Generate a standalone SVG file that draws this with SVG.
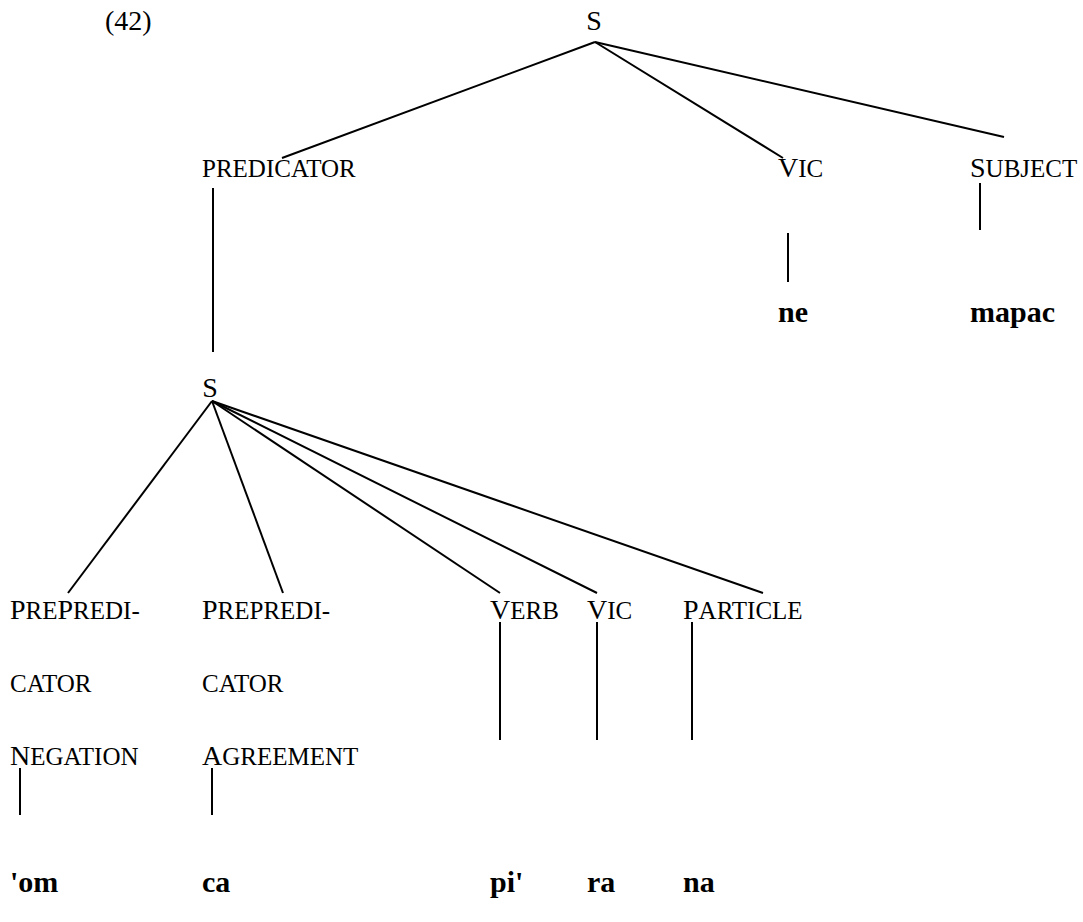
<svg xmlns="http://www.w3.org/2000/svg" width="1083" height="922" viewBox="0 0 1083 922">
<style>
.m{font-size:28px}
.sc{font-size:25px}
.b{font-size:30px;font-weight:bold}
.e line{stroke:#000;stroke-width:2;fill:none}
</style>
<rect width="1083" height="922" fill="#fff"/>
<g font-family="'Liberation Serif', 'Times New Roman', 'DejaVu Serif', serif" fill="#000">
<text class="m" x="105" y="30">(42)</text>
<g id="n-s-top"><text class="m" x="594" y="30" text-anchor="middle">S</text></g>
<g id="n-predicator"><text class="sc" x="202" y="177">PREDICATOR</text></g>
<g id="n-vic-top"><text x="778" y="177"><tspan class="m">V</tspan><tspan class="sc">IC</tspan></text></g>
<g id="n-subject"><text x="970" y="177"><tspan class="m">S</tspan><tspan class="sc">UBJECT</tspan></text></g>
<g id="n-ne"><text class="b" x="778" y="322">ne</text></g>
<g id="n-mapac"><text class="b" x="970" y="322">mapac</text></g>
<g id="n-s2"><text class="m" x="210" y="397" text-anchor="middle">S</text></g>
<g id="n-neg"><text x="10" y="619"><tspan class="m">P</tspan><tspan class="sc">RE</tspan><tspan class="m">P</tspan><tspan class="sc">REDI-</tspan></text>
<text class="sc" x="10" y="692">CATOR</text>
<text x="10" y="765"><tspan class="m">N</tspan><tspan class="sc">EGATION</tspan></text></g>
<g id="n-agr"><text x="202" y="619"><tspan class="m">P</tspan><tspan class="sc">REPREDI-</tspan></text>
<text class="sc" x="202" y="692">CATOR</text>
<text x="202" y="765"><tspan class="m">A</tspan><tspan class="sc">GREEMENT</tspan></text></g>
<g id="n-verb"><text x="490" y="619"><tspan class="m">V</tspan><tspan class="sc">ERB</tspan></text></g>
<g id="n-vic2"><text x="587" y="619"><tspan class="m">V</tspan><tspan class="sc">IC</tspan></text></g>
<g id="n-particle"><text x="683" y="619"><tspan class="m">P</tspan><tspan class="sc">ARTICLE</tspan></text></g>
<g id="n-om"><text class="b" x="10" y="892">'om</text></g>
<g id="n-ca"><text class="b" x="202" y="892">ca</text></g>
<g id="n-pi"><text class="b" x="490" y="892">pi'</text></g>
<g id="n-ra"><text class="b" x="587" y="892">ra</text></g>
<g id="n-na"><text class="b" x="683" y="892">na</text></g>
</g>
<g id="connectors" class="e">
<line x1="595" y1="42" x2="282" y2="158"/>
<line x1="595" y1="42" x2="783" y2="158"/>
<line x1="595" y1="42" x2="1004" y2="137"/>
<line x1="213" y1="188" x2="213" y2="352"/>
<line x1="788" y1="233" x2="788" y2="282"/>
<line x1="980" y1="183" x2="980" y2="230"/>
<line x1="212" y1="401" x2="68" y2="593"/>
<line x1="212" y1="401" x2="283" y2="593"/>
<line x1="212" y1="401" x2="500" y2="593"/>
<line x1="212" y1="401" x2="597" y2="593"/>
<line x1="212" y1="401" x2="763" y2="593"/>
<line x1="500" y1="622" x2="500" y2="740"/>
<line x1="597" y1="622" x2="597" y2="740"/>
<line x1="692" y1="622" x2="692" y2="740"/>
<line x1="20" y1="768" x2="20" y2="815"/>
<line x1="212" y1="768" x2="212" y2="815"/>
</g>
</svg>
